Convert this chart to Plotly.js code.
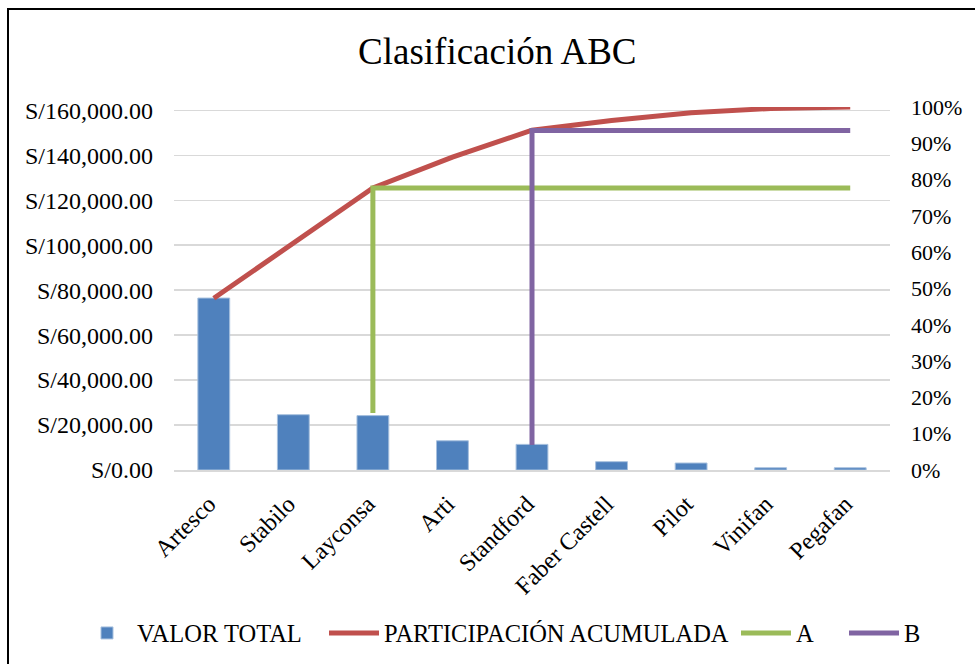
<!DOCTYPE html>
<html>
<head>
<meta charset="utf-8">
<script src="https://cdn.plot.ly/plotly-3.0.1.min.js"></script>
<style>
  html, body { margin: 0; padding: 0; background: #fff; overflow: hidden; }
  #frame { position: absolute; left: 7px; top: 8px; width: 1000px; height: 700px;
           border-left: 2px solid #000; border-top: 2px solid #000; box-sizing: border-box; pointer-events: none; z-index: 5; }
  #chart { position: absolute; left: 0; top: 0; width: 975px; height: 664px; }
</style>
</head>
<body>
<div id="chart"></div>
<div id="frame"></div>
<script>
const categories = ["Artesco", "Stabilo", "Layconsa", "Arti", "Standford", "Faber Castell", "Pilot", "Vinifan", "Pegafan"];
const valorTotal = [76500, 24600, 24200, 13000, 11400, 3700, 3100, 1000, 1000];
const participacionAcumulada = [0.473, 0.626, 0.777, 0.862, 0.936, 0.963, 0.984, 0.996, 1.0];
const seriesA_x = ["Layconsa", "Layconsa", "Pegafan"];
const seriesA_y = [0.157, 0.777, 0.777];
const seriesB_x = ["Standford", "Standford", "Pegafan"];
const seriesB_y = [0.069, 0.935, 0.935];

const FONT = "Liberation Serif";

const traces = [
  { type: "bar", name: "VALOR TOTAL", x: categories, y: valorTotal, legend: "legend",
    marker: { color: "#4F81BD", line: { color: "#A7C0DE", width: 1 } }, yaxis: "y" },
  { type: "scatter", mode: "lines", name: "PARTICIPACIÓN ACUMULADA", x: categories, y: participacionAcumulada,
    legend: "legend2", line: { color: "#C0504D", width: 5 }, yaxis: "y2" },
  { type: "scatter", mode: "lines", name: "A", x: seriesA_x, y: seriesA_y, legend: "legend3",
    line: { color: "#9BBB59", width: 5 }, yaxis: "y2" },
  { type: "scatter", mode: "lines", name: "B", x: seriesB_x, y: seriesB_y, legend: "legend4",
    line: { color: "#8064A2", width: 5 }, yaxis: "y2" }
];

function legendAt(px) {
  return { orientation: "h", xref: "container", yref: "container", x: px / 975, xanchor: "left",
           y: 31 / 664, yanchor: "middle", font: { family: FONT, size: 24.5, color: "#000" },
           itemwidth: 50, bgcolor: "rgba(0,0,0,0)", borderwidth: 0 };
}

const layout = {
  width: 975, height: 664,
  paper_bgcolor: "#fff", plot_bgcolor: "#fff",
  font: { family: FONT, size: 24, color: "#000" },
  margin: { l: 174, r: 85, t: 107, b: 194, pad: 0 },
  title: { text: "Clasificación ABC", font: { family: FONT, size: 37, color: "#000" },
           xref: "container", x: 0.51, xanchor: "center", yref: "container", y: 1 - 51/664, yanchor: "middle" },
  bargap: 0.6,
  showlegend: true,
  legend: legendAt(77),
  legend2: legendAt(324),
  legend3: legendAt(736),
  legend4: legendAt(844),
  xaxis: { type: "category", categoryorder: "array", categoryarray: categories,
           tickangle: -45, showgrid: false, showline: true, linecolor: "#D9D9D9", linewidth: 1.5,
           ticks: "", ticklabelshift: -5, ticklabelstandoff: 9,
           tickfont: { family: FONT, size: 24, color: "#000" }, fixedrange: true },
  yaxis: { range: [0, 161500], dtick: 20000, tick0: 0, tickprefix: "S/", tickformat: ",.2f",
           showgrid: true, gridcolor: "#D9D9D9", gridwidth: 1.5, zeroline: false, showline: false,
           ticks: "", ticklabelstandoff: 20, tickfont: { family: FONT, size: 24, color: "#000" } },
  yaxis2: { overlaying: "y", side: "right", range: [0, 1.0], dtick: 0.1, tick0: 0, tickformat: ".0%",
            showgrid: false, zeroline: false, showline: false, ticks: "", ticklabelstandoff: 20,
            tickfont: { family: FONT, size: 22, color: "#000" } }
};

Plotly.newPlot("chart", traces, layout, { displayModeBar: false, staticPlot: true });
</script>
</body>
</html>
